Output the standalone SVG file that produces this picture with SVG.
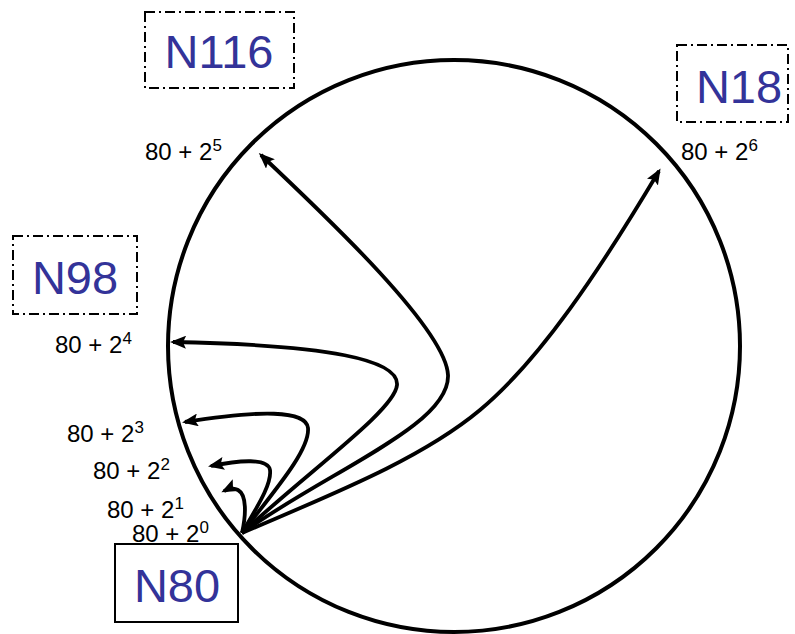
<svg xmlns="http://www.w3.org/2000/svg" width="795" height="634" viewBox="0 0 795 634">
<style>
.ring{fill:none;stroke:#000;stroke-width:4}
.arr{fill:none;stroke:#000;stroke-width:3.8;marker-end:url(#ah)}
.dbox{fill:#fff;stroke:#000;stroke-width:2;stroke-dasharray:10 4 2 4}
.sbox{fill:#fff;stroke:#000;stroke-width:2}
.nl{font-family:"Liberation Sans",Arial,sans-serif;font-size:47px;fill:#333399}
.lbl{font-family:"Liberation Sans",Arial,sans-serif;font-size:24px;fill:#000}
.sup{font-size:17px}
</style>
<defs>
<marker id="ah" viewBox="0 0 16 13" refX="13" refY="6.5" markerWidth="16" markerHeight="13" markerUnits="userSpaceOnUse" orient="auto">
<path d="M0,0 L16,6.5 L0,13 L3,6.5 z" fill="#000"/>
</marker>
</defs>
<g id="ring"><circle class="ring" cx="454" cy="346" r="286"/></g>
<g id="connectors">
<path class="arr" d="M242,533 C246,515 247,495 238,490 C233,487 228,489 224,491"/>
<path class="arr" d="M242,533 C255,510 272,485 270,470 C268,458 240,460 211,466"/>
<path class="arr" d="M242,533 C275,490 310,450 308,428 C306,410 260,410 185,422"/>
<path class="arr" d="M242,533 C310,470 395,410 397,385 C399,360 330,345 173,342"/>
<path class="arr" d="M242,533 C330,470 450,425 448,375 C446,330 330,220 261,155"/>
<path class="arr" d="M242,533 C330,495 420,460 480,410 C540,360 600,270 659,171"/>
</g>
<g id="labels">
<text class="lbl" x="145" y="160">80 + 2<tspan class="sup" dy="-9">5</tspan></text>
<text class="lbl" x="681" y="160">80 + 2<tspan class="sup" dy="-9">6</tspan></text>
<text class="lbl" x="55" y="353">80 + 2<tspan class="sup" dy="-9">4</tspan></text>
<text class="lbl" x="67" y="442">80 + 2<tspan class="sup" dy="-9">3</tspan></text>
<text class="lbl" x="93" y="479">80 + 2<tspan class="sup" dy="-9">2</tspan></text>
<text class="lbl" x="107" y="518">80 + 2<tspan class="sup" dy="-9">1</tspan></text>
<text class="lbl" x="132" y="542">80 + 2<tspan class="sup" dy="-9">0</tspan></text>
</g>
<g id="N116"><rect class="dbox" x="145" y="12" width="149" height="76"/><text class="nl" x="219" y="68" text-anchor="middle">N116</text></g>
<g id="N18"><rect class="dbox" x="677" y="45" width="111" height="77"/><text class="nl" x="739" y="103" text-anchor="middle">N18</text></g>
<g id="N98"><rect class="dbox" x="13" y="236" width="124" height="78"/><text class="nl" x="75" y="294" text-anchor="middle">N98</text></g>
<g id="N80"><rect class="sbox" x="115" y="544" width="123" height="78"/><text class="nl" x="177" y="602" text-anchor="middle">N80</text></g>
</svg>
